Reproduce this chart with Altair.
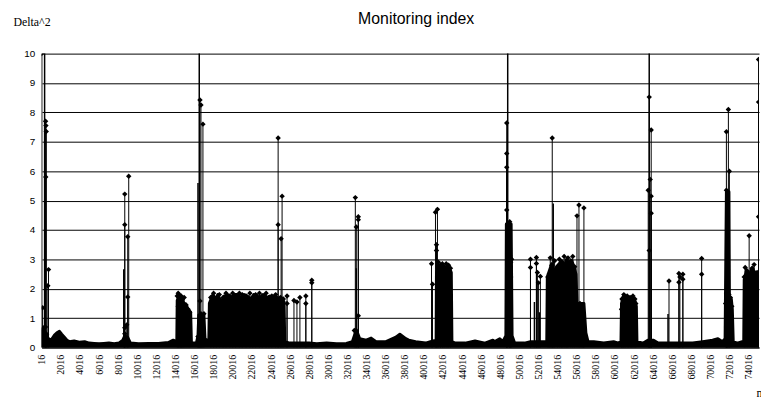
import altair as alt
import pandas as pd

# ---- axis ticks ----
tick_n = [16, 2016, 4016, 6016, 8016, 10016, 12016, 14016, 16016, 18016, 20016,
          22016, 24016, 26016, 28016, 30016, 32016, 34016, 36016, 38016, 40016,
          42016, 44016, 46016, 48016, 50016, 52016, 54016, 56016, 58016, 60016,
          62016, 64016, 66016, 68016, 70016, 72016, 74016]
y_ticks = [0, 1, 2, 3, 4, 5, 6, 7, 8, 9, 10]

# ---- upper envelope of the dense band of points (noise floor + dense blocks) ----
band_n = [0, 207, 414, 622, 829, 1100, 1347, 1600, 1865, 2100, 2383, 2650, 2900, 3400,
          3936, 4500, 4972, 5500, 6008, 6500, 7044, 7600, 8080, 8500, 8700, 9000, 9300,
          10152, 11188, 12224, 13260, 13777, 14088, 14150, 14192, 14400, 14606, 14813,
          15124, 15331, 15600, 15680, 16200, 16367, 16450, 16989, 17100, 17500, 17560,
          17921, 18200, 18439, 18800, 19100, 19475, 19800, 20100, 20511, 20900, 21200,
          21547, 21900, 22200, 22583, 22900, 23200, 23619, 23900, 24136, 24400, 24654,
          24900, 25172, 25380, 25450, 26000, 27000, 28000, 28800, 29834, 30870, 31906,
          32527, 32941, 33300, 33977, 34495, 35013, 36049, 37085, 37500, 38121, 38432,
          39157, 40193, 40700, 41300, 41332, 41540, 41747, 42000, 42265, 42472, 42700,
          42886, 42950, 43301, 44337, 45372, 46408, 47237, 47444, 47962, 48273, 48600,
          48650, 49150, 49250, 49516, 50552, 51174, 52000, 52880, 52935, 53142, 53400,
          53660, 53900, 54178, 54450, 54696, 54950, 55214, 55500, 55732, 55939, 56043,
          56768, 56975, 57200, 57804, 58840, 59876, 60394, 60650, 60704, 60900, 61200,
          61429, 61480, 61533, 61800, 62100, 62258, 62320, 62983, 63501, 64019, 64537,
          65055, 66091, 67127, 68163, 69199, 70235, 70800, 71271, 71550, 71582, 71685,
          71950, 72000, 72200, 72306, 72400, 72824, 73342, 73500, 73549, 73800, 74067,
          74378, 74688, 75000, 75100]
band_top = [0.6, 0.7, 0.5, 0.35, 0.25, 0.3, 0.42, 0.5, 0.55, 0.45, 0.35, 0.25, 0.2, 0.22,
            0.18, 0.2, 0.15, 0.14, 0.13, 0.14, 0.15, 0.13, 0.15, 0.25, 0.4, 0.35, 0.15,
            0.13, 0.14, 0.14, 0.17, 0.25, 0.2, 0.2, 1.6, 1.75, 1.7, 1.55,
            1.45, 1.3, 1.2, 0.15, 0.15, 0.4, 1.1, 1.1, 0.3, 0.2, 1.5,
            1.8, 1.65, 1.8, 1.55, 1.75, 1.8, 1.65, 1.8, 1.8, 1.7, 1.8,
            1.75, 1.65, 1.8, 1.75, 1.7, 1.8, 1.7, 1.75, 1.65, 1.75, 1.7,
            1.6, 1.65, 1.55, 0.2, 0.15, 0.15, 0.15, 0.13, 0.15, 0.13, 0.14,
            0.2, 0.6, 0.3, 0.25, 0.32, 0.2, 0.2, 0.35, 0.45, 0.3, 0.25,
            0.2, 0.15, 0.2, 0.25, 2.5, 2.8, 2.75, 2.8, 2.7, 2.75, 2.7,
            2.55, 0.2, 0.15, 0.15, 0.22, 0.15, 0.25, 0.2, 0.3, 0.2, 0.4,
            4.2, 4.2, 0.4, 0.15, 0.15, 0.2, 0.2, 0.2, 2.4, 2.6, 2.85,
            2.5, 2.75, 2.85, 2.95, 2.7, 3.0, 2.85, 2.95, 2.75, 2.5, 1.5,
            1.5, 0.5, 0.2, 0.2, 0.15, 0.2, 0.15, 0.2, 1.5, 1.75, 1.7,
            1.55, 0.3, 1.55, 1.7, 1.6, 1.4, 0.2, 0.15, 0.25, 0.25, 0.15,
            0.15, 0.15, 0.15, 0.15, 0.2, 0.25, 0.3, 0.2, 0.3, 1.5, 5.3,
            5.3, 1.75, 1.65, 1.3, 0.2, 0.15, 0.2, 0.2, 2.3, 2.65, 2.45,
            2.7, 2.55, 2.45, 2.4]

# ---- individual points drawn with a diamond marker ----
spike_n = [0, 104, 414, 450, 480, 430, 650, 720, 400, 520,
           8702, 8702, 9012, 9116, 9012, 8702, 8702, 8909,
           14192, 14295, 14400, 14500, 14606, 14710, 14813, 14920, 15124, 15331, 14295, 14606, 15500,
           16574, 16678, 16885, 16574, 16678, 16989, 16367, 16782,
           17700, 18000, 18300, 18600, 19000, 19300, 19700, 20000, 20300, 20700, 21000, 21400,
           21800, 22100, 22400, 22800, 23100, 23500, 23800, 24100, 24500, 25000, 25300,
           24758, 24758, 25172, 25069,
           25690, 25690, 26415, 26726, 27037, 27658, 27658, 28280, 28280,
           32838, 33149, 33149, 32941, 33149, 32734,
           40815, 40918, 41229, 41436, 41332, 41332, 41540, 41747, 41950, 42150, 42350, 42600,
           42800, 42472, 41747, 42000,
           48687, 48687, 48687, 48687, 48998, 48998, 49101, 49101, 49205, 48998,
           51174, 51174, 51796, 51796, 51899, 52003, 52210,
           53453, 53000, 53142, 53246, 53400, 53700, 54000, 54200, 54400, 54500, 54700, 54900,
           55000, 55100, 55400, 55600, 55800,
           56043, 56250, 56768, 56561, 56350, 56700,
           60704, 60750, 60850, 60950, 61100, 61300, 61429, 61600, 61750, 61900, 62100, 62200,
           63605, 63812, 63708, 63501, 63812, 63812, 63605,
           65677,
           66713, 67127, 66713, 67127, 66816,
           69096, 69096,
           71685, 71892, 71996, 71685, 71600, 71700, 71800, 71950, 72100, 72250, 71800, 71700, 72000,
           73549, 73653, 73860, 74067, 74378, 74585, 74688, 74900,
           75050, 75050, 75050]
spike_val = [10.0, 1.35, 7.7, 7.55, 7.35, 5.8, 2.1, 2.65, 0.7, 0.45,
             5.22, 4.18, 3.77, 5.83, 1.72, 0.67, 0.47, 0.77,
             1.75, 1.85, 1.8, 1.6, 1.75, 1.65, 1.5, 1.7, 1.45, 1.3, 1.4, 1.2, 1.2,
             8.42, 8.25, 7.6, 1.58, 1.15, 1.15, 0.37, 0.9,
             1.7, 1.85, 1.6, 1.8, 1.7, 1.85, 1.75, 1.85, 1.7, 1.85, 1.8, 1.75,
             1.85, 1.7, 1.8, 1.85, 1.75, 1.85, 1.7, 1.75, 1.8, 1.7, 1.65,
             7.13, 4.18, 5.15, 3.7,
             1.75, 1.5, 1.6, 1.55, 1.7, 1.75, 1.5, 2.29, 2.2,
             5.1, 4.45, 4.35, 4.1, 1.08, 0.58,
             2.85, 2.15, 4.6, 4.7, 3.5, 3.3, 2.9, 2.8, 2.85, 2.75, 2.85, 2.8,
             2.7, 2.5, 2.5, 2.6,
             7.64, 6.6, 6.13, 4.68, 4.28, 3.13, 2.9, 2.4, 3.0, 2.6,
             3.0, 2.72, 3.06, 2.86, 2.55, 2.2, 2.42,
             7.13, 2.4, 2.5, 3.05, 2.8, 2.95, 2.7, 3.0, 2.5, 2.9, 3.1, 2.85,
             2.4, 3.05, 2.95, 3.1, 2.75,
             4.48, 4.85, 4.75, 0.4, 1.5, 1.0,
             1.3, 1.65, 1.05, 1.8, 1.7, 1.75, 1.6, 1.7, 1.55, 1.75, 1.65, 1.5,
             8.52, 7.4, 5.72, 5.35, 5.15, 4.57, 3.3,
             2.26,
             2.52, 2.49, 2.22, 2.32, 2.4,
             3.03, 2.49,
             7.34, 8.1, 6.0, 5.35, 1.5, 1.85, 1.6, 1.8, 1.7, 1.4, 1.2, 0.7, 1.0,
             2.4, 2.72, 2.6, 3.8, 2.7, 2.82, 2.5, 2.55,
             9.8, 8.35, 4.45]

# ---- consecutive points whose connecting stroke shows without a marker ----
bare_n = [311, 16500, 16367, 48791, 53557, 63605, 63812, 32941, 8598, 51588, 52106, 65573]
bare_top = [12.0, 12.0, 5.6, 12.0, 4.9, 12.0, 3.0, 2.7, 2.66, 1.55, 1.2, 1.14]

band_df = pd.DataFrame({"n": band_n, "v": band_top})
spike_df = pd.DataFrame({"n": spike_n, "v": spike_val})
bare_df = pd.DataFrame({"n": bare_n, "v": bare_top})

xscale = alt.Scale(domain=[0, 75100], nice=False, zero=False)
yscale = alt.Scale(domain=[0, 10], nice=False)

xaxis = alt.Axis(values=tick_n, format="d", labelAngle=-90, labelFont="Liberation Serif",
                 labelFontSize=10, labelColor="black", labelPadding=7, labelFlush=False,
                 labelOverlap=False, ticks=False, grid=False, domainColor="black",
                 title="n", titleX=722, titleY=50, titleAlign="left",
                 titleBaseline="alphabetic", titleFont="Liberation Serif", titleFontSize=12,
                 titleFontWeight="normal", titleColor="black")
yaxis = alt.Axis(values=y_ticks, format="d", grid=True, gridColor="black", gridOpacity=1,
                 gridWidth=1, domainColor="#808080", ticks=False, labelPadding=7,
                 labelFont="Liberation Sans", labelFontSize=10, labelColor="black",
                 title="Delta^2", titleAngle=0, titleX=-29, titleY=-28, titleAlign="left",
                 titleBaseline="alphabetic", titleFont="Liberation Serif", titleFontSize=12,
                 titleFontWeight="normal", titleColor="black")

x_enc = alt.X("n:Q", scale=xscale, axis=xaxis)
y_enc = alt.Y("v:Q", scale=yscale, axis=yaxis)

band = alt.Chart(band_df).mark_area(color="black", stroke="black", strokeWidth=3,
                                    strokeJoin="round", clip=True).encode(x=x_enc, y=y_enc)
rules = alt.Chart(spike_df).mark_rule(color="black", strokeWidth=1, clip=True).encode(
    x=x_enc, y=y_enc, y2=alt.datum(0))
bare = alt.Chart(bare_df).mark_rule(color="black", strokeWidth=1.5, clip=True).encode(
    x=x_enc, y=y_enc, y2=alt.datum(0))
points = alt.Chart(spike_df).mark_point(shape="diamond", filled=True, size=30, color="black",
                                        opacity=1, clip=True).encode(x=x_enc, y=y_enc)

chart = alt.layer(band, rules, bare, points).properties(
    width=725, height=297,
    title=alt.TitleParams("Monitoring index", font="Liberation Sans", fontSize=16,
                          fontWeight="normal", color="black", anchor="middle",
                          frame="group", baseline="alphabetic", offset=-24, dx=16),
    padding={"left": 34, "top": 44, "right": 2, "bottom": 55},
    autosize=alt.AutoSizeParams(type="none"),
).configure_view(stroke=None)

chart.save("out.html", embed_options={"renderer": "svg", "actions": False})
